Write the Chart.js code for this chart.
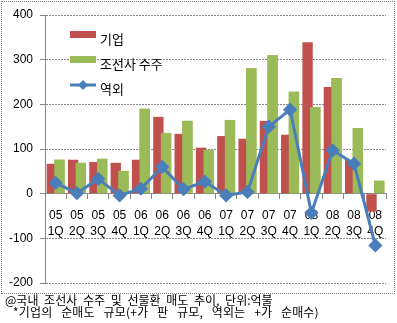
<!DOCTYPE html>
<html>
<head>
<meta charset="utf-8">
<script src="https://cdn.jsdelivr.net/npm/chart.js@4.4.1/dist/chart.umd.min.js"></script>
<style>
  body { margin: 0; background: #fff; }
  #frame { position: absolute; left: 1px; top: 1px; width: 392px; height: 291px; border: 1px dotted #808080; }
  .note { position: absolute; font: 12px "Noto Sans CJK KR", sans-serif; line-height: 12px; color: #000; white-space: pre; }
</style>
</head>
<body>
<div id="frame"><canvas id="grafica" width="392" height="291"></canvas></div>
<div class="note" style="left:5px; top:294px; word-spacing:3px;">@국내 조선사 수주 및 선물환 매도 추이, 단위:억불</div>
<div class="note" style="left:13px; top:306px; word-spacing:6px; letter-spacing:0.15px;">*기업의 순매도 규모(+가 판 규모, 역외는 +가 순매수)</div>
<script>
var categorias = [['05','1Q'],['05','2Q'],['05','3Q'],['05','4Q'],['06','1Q'],['06','2Q'],['06','3Q'],['06','4Q'],
                  ['07','1Q'],['07','2Q'],['07','3Q'],['07','4Q'],['08','1Q'],['08','2Q'],['08','3Q'],['08','4Q']];
var kiup = [67, 76, 71, 69, 76, 172, 134, 103, 129, 123, 163, 132, 339, 239, 75, -40];
var josunsa = [76, 69, 78, 51, 190, 136, 163, 98, 165, 281, 310, 228, 194, 259, 147, 29];
var yeokoe = [24, 1, 33, -4, 11, 60, 10, 27, -4, 4, 150, 188, -43, 97, 67, -116];
var nombres = ['기업', '조선사 수주', '역외'];

// leyenda dentro del area del grafico
const leyenda = {
    id: 'leyenda',
    afterDatasetDraw(chart, args) {
        // las barras verdes quedan encima de las rojas
        if (args.index === 1) {
            chart.getDatasetMeta(2).data.forEach(function (el) { el.draw(chart.ctx); });
        }
    },
    afterDraw(chart) {
        const c = chart.ctx;
        const x = 68;
        const orden = [1, 2, 0];
        orden.forEach(function (k, i) {
            const ds = chart.data.datasets[k];
            const y = 29 + i * 25;
            c.save();
            if (ds.type === 'line') {
                c.strokeStyle = ds.borderColor;
                c.lineWidth = 3;
                c.beginPath(); c.moveTo(x, y + 4); c.lineTo(x + 26, y + 4); c.stroke();
                c.fillStyle = ds.borderColor;
                c.beginPath();
                c.moveTo(x + 13, y - 1); c.lineTo(x + 18, y + 4); c.lineTo(x + 13, y + 9); c.lineTo(x + 8, y + 4);
                c.closePath(); c.fill();
            } else {
                c.fillStyle = ds.backgroundColor;
                c.fillRect(x, y, 26, 7);
            }
            c.fillStyle = '#000';
            c.font = '13px "Noto Sans CJK KR"';
            c.textBaseline = 'middle';
            c.fillText(ds.label, x + 30, y + 8);
            c.restore();
        });
    }
};

new Chart(document.getElementById('grafica'), {
    data: {
        labels: categorias,
        datasets: [
            { type: 'line', label: nombres[2], data: yeokoe, borderColor: '#4A7EBB', backgroundColor: '#4A7EBB',
              borderWidth: 3, pointStyle: 'rectRot', pointRadius: 5, pointHoverRadius: 5, tension: 0, order: 0 },
            { type: 'bar', label: nombres[0], data: kiup, backgroundColor: '#C0504D', order: 1,
              categoryPercentage: 0.72, barPercentage: 1.35 },
            { type: 'bar', label: nombres[1], data: josunsa, backgroundColor: '#9BBB59', order: 2,
              categoryPercentage: 0.72, barPercentage: 1.35 }
        ]
    },
    options: {
        responsive: false,
        animation: false,
        layout: { padding: { left: 0, right: 3, top: 13, bottom: 10 } },
        plugins: { legend: { display: false }, tooltip: { enabled: false } },
        scales: {
            x: {
                position: { y: 0 },
                grid: { display: true, drawOnChartArea: false, drawTicks: true, tickLength: 5, color: '#868686' },
                border: { display: true, color: '#868686', width: 1 },
                ticks: { color: '#000', font: { family: 'Liberation Sans', size: 12, lineHeight: 1.33 }, padding: 9, maxRotation: 0, autoSkip: false }
            },
            y: {
                min: -200, max: 400,
                ticks: { stepSize: 100, color: '#000', font: { family: 'Liberation Sans', size: 12 }, padding: 7 },
                grid: { color: '#868686', tickLength: 5, tickBorderDash: [0, 0] },
                border: { color: '#868686', dash: [2, 1] },
                afterFit: function (s) { s.width = 43; s.paddingTop = 6; s.paddingBottom = 6; }
            }
        }
    },
    plugins: [leyenda]
});
</script>
</body>
</html>
